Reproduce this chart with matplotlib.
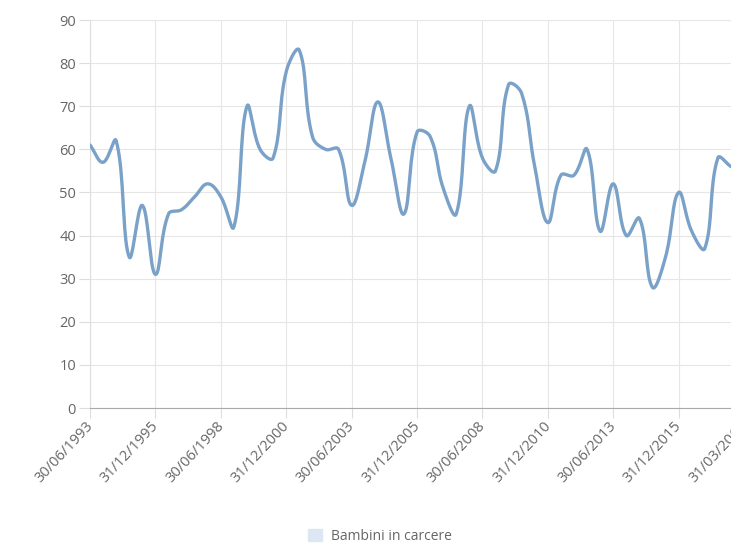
import numpy as np
import matplotlib
matplotlib.use("Agg")
import matplotlib.pyplot as plt
import matplotlib.transforms as mtransforms
from matplotlib.patches import Patch

plt.rcParams["font.family"] = ["Open Sans", "DejaVu Sans"]

# values, one every half year (30/06/1993 onwards)
values = [61, 57, 62, 35, 47, 31, 45, 46, 49, 52,
          49, 42, 70, 60, 58, 78, 83, 63, 60, 60,
          47, 57, 71, 58, 45, 64, 63, 51, 45, 70,
          58, 55, 75, 73, 56, 43, 54, 54, 60, 41,
          52, 40, 44, 28, 35, 50, 41, 37, 58, 56]
tick_labels = ["30/06/1993", "31/12/1995", "30/06/1998", "31/12/2000",
               "30/06/2003", "31/12/2005", "30/06/2008", "31/12/2010",
               "30/06/2013", "31/12/2015", "31/03/2018"]
series_name = "Bambini in carcere"

line_color = "#7aa2c8"
grid_color = "#e6e6e6"
text_color = "#666666"


def smooth(xs, ys, tension=0.4, sx=13.08, sy=4.31, n=20):
    # chart.js style bezier curve, distances taken in pixel space
    px = np.asarray(xs, float) * sx
    py = np.asarray(ys, float) * sy
    m = len(px)
    cp_prev = np.zeros((m, 2))
    cp_next = np.zeros((m, 2))
    for i in range(m):
        p0 = np.array([px[max(i - 1, 0)], py[max(i - 1, 0)]])
        p1 = np.array([px[i], py[i]])
        p2 = np.array([px[min(i + 1, m - 1)], py[min(i + 1, m - 1)]])
        d01 = np.hypot(*(p1 - p0))
        d12 = np.hypot(*(p2 - p1))
        tot = d01 + d12 if d01 + d12 > 0 else 1
        fa = tension * d01 / tot
        fb = tension * d12 / tot
        cp_prev[i] = p1 - fa * (p2 - p0)
        cp_next[i] = p1 + fb * (p2 - p0)
    out_x, out_y = [], []
    t = np.linspace(0, 1, n)
    for i in range(m - 1):
        a = np.array([px[i], py[i]])
        b = cp_next[i]
        c = cp_prev[i + 1]
        d = np.array([px[i + 1], py[i + 1]])
        pts = ((1 - t) ** 3)[:, None] * a + (3 * (1 - t) ** 2 * t)[:, None] * b \
            + (3 * (1 - t) * t ** 2)[:, None] * c + (t ** 3)[:, None] * d
        out_x.extend(pts[:, 0] / sx)
        out_y.extend(pts[:, 1] / sy)
    return out_x, out_y


fig = plt.figure(figsize=(7.31, 5.45), dpi=100)
# plot area runs past the right edge, like the cropped original
ax = fig.add_axes([90 / 731, 137 / 545, 654 / 731, 388 / 545])

sx_, sy_ = smooth(range(len(values)), values)
ax.plot(sx_, sy_, color=line_color, lw=2.4, solid_capstyle="round", zorder=3)

ax.set_xlim(0, 50)
ax.set_ylim(0, 90)
ax.set_yticks(range(0, 91, 10))
ax.set_xticks(range(0, 51, 5))
ax.set_xticklabels(tick_labels, rotation=47, ha="right", va="top",
                   rotation_mode="anchor")
ax.tick_params(axis="both", colors="#dddddd", labelcolor=text_color,
               labelsize=10.5, length=7, width=0.8)
ax.tick_params(axis="x", pad=3)
ax.tick_params(axis="y", pad=2, length=8)

# nudge the slanted labels a bit left/up so they end just before the tick
shift = mtransforms.ScaledTranslation(-5 / 100, 3 / 100, fig.dpi_scale_trans)
for lbl in ax.get_xticklabels():
    lbl.set_transform(lbl.get_transform() + shift)

ax.grid(True, color=grid_color, lw=0.8)
ax.set_axisbelow(True)
for side in ["top", "right"]:
    ax.spines[side].set_visible(False)
ax.spines["left"].set_color("#dddddd")
ax.spines["bottom"].set_color("#aaaaaa")

handle = Patch(facecolor="#dde7f3", edgecolor="#dde7f3")
fig.legend([handle], [series_name], loc="center", bbox_to_anchor=(380 / 731, 9 / 545),
           frameon=False, fontsize=10, labelcolor=text_color,
           handlelength=1.0, handleheight=1.0, handletextpad=0.7)

fig.savefig("out.png", dpi=100)
